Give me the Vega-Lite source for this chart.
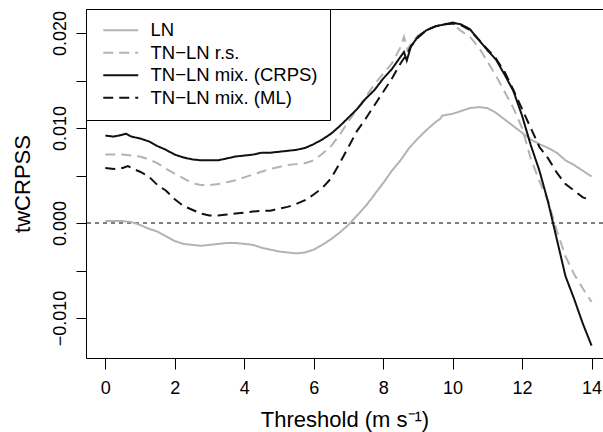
{
  "$schema": "https://vega.github.io/schema/vega-lite/v6.json",
  "width": 517,
  "height": 349,
  "autosize": {"type": "none"},
  "padding": {"left": 86, "top": 9, "right": 0, "bottom": 74},
  "background": "white",
  "config": {
    "font": "Liberation Sans",
    "view": {"stroke": null},
    "axis": {
      "grid": false,
      "domainColor": "black",
      "domainWidth": 1,
      "tickColor": "black",
      "tickWidth": 1,
      "labelColor": "black",
      "labelFont": "Liberation Sans",
      "labelFontSize": 18,
      "titleFont": "Liberation Sans",
      "titleFontSize": 22,
      "titleFontWeight": "normal",
      "titleColor": "black",
      "labelFlush": false,
      "labelOverlap": false
    },
    "legend": {
      "orient": "none",
      "legendX": 0,
      "legendY": 0,
      "strokeColor": "black",
      "fillColor": "white",
      "padding": 12,
      "cornerRadius": 0,
      "symbolType": "M-0.5,0H3.875",
      "symbolSize": 256,
      "symbolStrokeWidth": 2,
      "labelFont": "Liberation Sans",
      "labelFontSize": 18.5,
      "labelColor": "black",
      "labelOffset": 34,
      "rowPadding": 3.5,
      "labelLimit": 400
    }
  },
  "datasets": {
    "curves": [
      {"t": 0, "v": 0.0002, "s": "LN"},
      {"t": 0.25, "v": 0.0002, "s": "LN"},
      {"t": 0.5, "v": 0.0002, "s": "LN"},
      {"t": 0.75, "v": 0.0001, "s": "LN"},
      {"t": 1.0, "v": -0.0002, "s": "LN"},
      {"t": 1.25, "v": -0.0006, "s": "LN"},
      {"t": 1.5, "v": -0.0009, "s": "LN"},
      {"t": 1.75, "v": -0.0014, "s": "LN"},
      {"t": 2.0, "v": -0.0019, "s": "LN"},
      {"t": 2.25, "v": -0.0022, "s": "LN"},
      {"t": 2.5, "v": -0.0023, "s": "LN"},
      {"t": 2.75, "v": -0.0024, "s": "LN"},
      {"t": 3.0, "v": -0.0023, "s": "LN"},
      {"t": 3.25, "v": -0.0022, "s": "LN"},
      {"t": 3.5, "v": -0.0021, "s": "LN"},
      {"t": 3.75, "v": -0.0021, "s": "LN"},
      {"t": 4.0, "v": -0.0022, "s": "LN"},
      {"t": 4.25, "v": -0.0023, "s": "LN"},
      {"t": 4.5, "v": -0.0026, "s": "LN"},
      {"t": 4.75, "v": -0.0028, "s": "LN"},
      {"t": 5.0, "v": -0.003, "s": "LN"},
      {"t": 5.25, "v": -0.0031, "s": "LN"},
      {"t": 5.5, "v": -0.0032, "s": "LN"},
      {"t": 5.75, "v": -0.0031, "s": "LN"},
      {"t": 6.0, "v": -0.0028, "s": "LN"},
      {"t": 6.25, "v": -0.0023, "s": "LN"},
      {"t": 6.5, "v": -0.0017, "s": "LN"},
      {"t": 6.75, "v": -0.001, "s": "LN"},
      {"t": 7.0, "v": -0.0002, "s": "LN"},
      {"t": 7.25, "v": 0.0008, "s": "LN"},
      {"t": 7.5, "v": 0.0018, "s": "LN"},
      {"t": 7.75, "v": 0.003, "s": "LN"},
      {"t": 8.0, "v": 0.0042, "s": "LN"},
      {"t": 8.25, "v": 0.0055, "s": "LN"},
      {"t": 8.5, "v": 0.0066, "s": "LN"},
      {"t": 8.75, "v": 0.0079, "s": "LN"},
      {"t": 9.0, "v": 0.0089, "s": "LN"},
      {"t": 9.25, "v": 0.0098, "s": "LN"},
      {"t": 9.5, "v": 0.0106, "s": "LN"},
      {"t": 9.65, "v": 0.011, "s": "LN"},
      {"t": 9.7, "v": 0.0113, "s": "LN"},
      {"t": 10.0, "v": 0.0115, "s": "LN"},
      {"t": 10.25, "v": 0.0118, "s": "LN"},
      {"t": 10.5, "v": 0.0121, "s": "LN"},
      {"t": 10.75, "v": 0.0122, "s": "LN"},
      {"t": 11.0, "v": 0.0121, "s": "LN"},
      {"t": 11.25, "v": 0.0116, "s": "LN"},
      {"t": 11.5, "v": 0.0109, "s": "LN"},
      {"t": 11.75, "v": 0.0102, "s": "LN"},
      {"t": 12.0, "v": 0.0095, "s": "LN"},
      {"t": 12.25, "v": 0.0088, "s": "LN"},
      {"t": 12.5, "v": 0.0083, "s": "LN"},
      {"t": 12.75, "v": 0.0079, "s": "LN"},
      {"t": 13.0, "v": 0.0074, "s": "LN"},
      {"t": 13.25, "v": 0.0066, "s": "LN"},
      {"t": 13.5, "v": 0.0061, "s": "LN"},
      {"t": 13.75, "v": 0.0055, "s": "LN"},
      {"t": 14.0, "v": 0.0049, "s": "LN"},

      {"t": 0, "v": 0.0072, "s": "TN−LN r.s."},
      {"t": 0.25, "v": 0.0072, "s": "TN−LN r.s."},
      {"t": 0.5, "v": 0.0072, "s": "TN−LN r.s."},
      {"t": 0.75, "v": 0.0071, "s": "TN−LN r.s."},
      {"t": 1.0, "v": 0.007, "s": "TN−LN r.s."},
      {"t": 1.25, "v": 0.0067, "s": "TN−LN r.s."},
      {"t": 1.5, "v": 0.0063, "s": "TN−LN r.s."},
      {"t": 1.75, "v": 0.0057, "s": "TN−LN r.s."},
      {"t": 2.0, "v": 0.0052, "s": "TN−LN r.s."},
      {"t": 2.25, "v": 0.0047, "s": "TN−LN r.s."},
      {"t": 2.5, "v": 0.0042, "s": "TN−LN r.s."},
      {"t": 2.75, "v": 0.004, "s": "TN−LN r.s."},
      {"t": 3.0, "v": 0.004, "s": "TN−LN r.s."},
      {"t": 3.25, "v": 0.0041, "s": "TN−LN r.s."},
      {"t": 3.5, "v": 0.0043, "s": "TN−LN r.s."},
      {"t": 3.75, "v": 0.0045, "s": "TN−LN r.s."},
      {"t": 4.0, "v": 0.0048, "s": "TN−LN r.s."},
      {"t": 4.25, "v": 0.0051, "s": "TN−LN r.s."},
      {"t": 4.5, "v": 0.0054, "s": "TN−LN r.s."},
      {"t": 4.75, "v": 0.0057, "s": "TN−LN r.s."},
      {"t": 5.0, "v": 0.0059, "s": "TN−LN r.s."},
      {"t": 5.25, "v": 0.0061, "s": "TN−LN r.s."},
      {"t": 5.5, "v": 0.0062, "s": "TN−LN r.s."},
      {"t": 5.75, "v": 0.0063, "s": "TN−LN r.s."},
      {"t": 6.0, "v": 0.0066, "s": "TN−LN r.s."},
      {"t": 6.25, "v": 0.0073, "s": "TN−LN r.s."},
      {"t": 6.5, "v": 0.0081, "s": "TN−LN r.s."},
      {"t": 6.75, "v": 0.0093, "s": "TN−LN r.s."},
      {"t": 7.0, "v": 0.0107, "s": "TN−LN r.s."},
      {"t": 7.25, "v": 0.012, "s": "TN−LN r.s."},
      {"t": 7.5, "v": 0.0133, "s": "TN−LN r.s."},
      {"t": 7.75, "v": 0.0146, "s": "TN−LN r.s."},
      {"t": 8.0, "v": 0.0157, "s": "TN−LN r.s."},
      {"t": 8.25, "v": 0.0168, "s": "TN−LN r.s."},
      {"t": 8.5, "v": 0.0185, "s": "TN−LN r.s."},
      {"t": 8.6, "v": 0.0196, "s": "TN−LN r.s."},
      {"t": 8.7, "v": 0.0182, "s": "TN−LN r.s."},
      {"t": 8.8, "v": 0.0189, "s": "TN−LN r.s."},
      {"t": 9.0, "v": 0.0197, "s": "TN−LN r.s."},
      {"t": 9.25, "v": 0.0203, "s": "TN−LN r.s."},
      {"t": 9.5, "v": 0.0207, "s": "TN−LN r.s."},
      {"t": 9.75, "v": 0.0209, "s": "TN−LN r.s."},
      {"t": 10.0, "v": 0.021, "s": "TN−LN r.s."},
      {"t": 10.25, "v": 0.0202, "s": "TN−LN r.s."},
      {"t": 10.5, "v": 0.0196, "s": "TN−LN r.s."},
      {"t": 10.75, "v": 0.0185, "s": "TN−LN r.s."},
      {"t": 11.0, "v": 0.017, "s": "TN−LN r.s."},
      {"t": 11.25, "v": 0.0155, "s": "TN−LN r.s."},
      {"t": 11.5, "v": 0.0138, "s": "TN−LN r.s."},
      {"t": 11.75, "v": 0.0121, "s": "TN−LN r.s."},
      {"t": 12.0, "v": 0.01, "s": "TN−LN r.s."},
      {"t": 12.25, "v": 0.0068, "s": "TN−LN r.s."},
      {"t": 12.5, "v": 0.0044, "s": "TN−LN r.s."},
      {"t": 12.75, "v": 0.0023, "s": "TN−LN r.s."},
      {"t": 13.0, "v": -0.0008, "s": "TN−LN r.s."},
      {"t": 13.25, "v": -0.0035, "s": "TN−LN r.s."},
      {"t": 13.5, "v": -0.0054, "s": "TN−LN r.s."},
      {"t": 13.75, "v": -0.0069, "s": "TN−LN r.s."},
      {"t": 14.0, "v": -0.0083, "s": "TN−LN r.s."},

      {"t": 0, "v": 0.0092, "s": "TN−LN mix. (CRPS)"},
      {"t": 0.25, "v": 0.0091, "s": "TN−LN mix. (CRPS)"},
      {"t": 0.5, "v": 0.0093, "s": "TN−LN mix. (CRPS)"},
      {"t": 0.6, "v": 0.0094, "s": "TN−LN mix. (CRPS)"},
      {"t": 0.75, "v": 0.0091, "s": "TN−LN mix. (CRPS)"},
      {"t": 1.0, "v": 0.0089, "s": "TN−LN mix. (CRPS)"},
      {"t": 1.25, "v": 0.0086, "s": "TN−LN mix. (CRPS)"},
      {"t": 1.5, "v": 0.0081, "s": "TN−LN mix. (CRPS)"},
      {"t": 1.75, "v": 0.0077, "s": "TN−LN mix. (CRPS)"},
      {"t": 2.0, "v": 0.0072, "s": "TN−LN mix. (CRPS)"},
      {"t": 2.25, "v": 0.0069, "s": "TN−LN mix. (CRPS)"},
      {"t": 2.5, "v": 0.0067, "s": "TN−LN mix. (CRPS)"},
      {"t": 2.75, "v": 0.0066, "s": "TN−LN mix. (CRPS)"},
      {"t": 3.0, "v": 0.0066, "s": "TN−LN mix. (CRPS)"},
      {"t": 3.25, "v": 0.0066, "s": "TN−LN mix. (CRPS)"},
      {"t": 3.5, "v": 0.0068, "s": "TN−LN mix. (CRPS)"},
      {"t": 3.75, "v": 0.007, "s": "TN−LN mix. (CRPS)"},
      {"t": 4.0, "v": 0.0071, "s": "TN−LN mix. (CRPS)"},
      {"t": 4.25, "v": 0.0072, "s": "TN−LN mix. (CRPS)"},
      {"t": 4.5, "v": 0.0074, "s": "TN−LN mix. (CRPS)"},
      {"t": 4.75, "v": 0.0074, "s": "TN−LN mix. (CRPS)"},
      {"t": 5.0, "v": 0.0075, "s": "TN−LN mix. (CRPS)"},
      {"t": 5.25, "v": 0.0076, "s": "TN−LN mix. (CRPS)"},
      {"t": 5.5, "v": 0.0077, "s": "TN−LN mix. (CRPS)"},
      {"t": 5.75, "v": 0.0079, "s": "TN−LN mix. (CRPS)"},
      {"t": 6.0, "v": 0.0083, "s": "TN−LN mix. (CRPS)"},
      {"t": 6.25, "v": 0.0088, "s": "TN−LN mix. (CRPS)"},
      {"t": 6.5, "v": 0.0094, "s": "TN−LN mix. (CRPS)"},
      {"t": 6.75, "v": 0.0102, "s": "TN−LN mix. (CRPS)"},
      {"t": 7.0, "v": 0.0111, "s": "TN−LN mix. (CRPS)"},
      {"t": 7.25, "v": 0.012, "s": "TN−LN mix. (CRPS)"},
      {"t": 7.5, "v": 0.0131, "s": "TN−LN mix. (CRPS)"},
      {"t": 7.75, "v": 0.014, "s": "TN−LN mix. (CRPS)"},
      {"t": 8.0, "v": 0.0152, "s": "TN−LN mix. (CRPS)"},
      {"t": 8.25, "v": 0.0162, "s": "TN−LN mix. (CRPS)"},
      {"t": 8.5, "v": 0.0175, "s": "TN−LN mix. (CRPS)"},
      {"t": 8.6, "v": 0.018, "s": "TN−LN mix. (CRPS)"},
      {"t": 8.68, "v": 0.0171, "s": "TN−LN mix. (CRPS)"},
      {"t": 8.8, "v": 0.0186, "s": "TN−LN mix. (CRPS)"},
      {"t": 9.0, "v": 0.0196, "s": "TN−LN mix. (CRPS)"},
      {"t": 9.25, "v": 0.0203, "s": "TN−LN mix. (CRPS)"},
      {"t": 9.5, "v": 0.0207, "s": "TN−LN mix. (CRPS)"},
      {"t": 9.75, "v": 0.0209, "s": "TN−LN mix. (CRPS)"},
      {"t": 10.0, "v": 0.0211, "s": "TN−LN mix. (CRPS)"},
      {"t": 10.25, "v": 0.0209, "s": "TN−LN mix. (CRPS)"},
      {"t": 10.5, "v": 0.0204, "s": "TN−LN mix. (CRPS)"},
      {"t": 10.75, "v": 0.0193, "s": "TN−LN mix. (CRPS)"},
      {"t": 11.0, "v": 0.0182, "s": "TN−LN mix. (CRPS)"},
      {"t": 11.25, "v": 0.0172, "s": "TN−LN mix. (CRPS)"},
      {"t": 11.5, "v": 0.0156, "s": "TN−LN mix. (CRPS)"},
      {"t": 11.75, "v": 0.0139, "s": "TN−LN mix. (CRPS)"},
      {"t": 12.0, "v": 0.0113, "s": "TN−LN mix. (CRPS)"},
      {"t": 12.25, "v": 0.0082, "s": "TN−LN mix. (CRPS)"},
      {"t": 12.5, "v": 0.0055, "s": "TN−LN mix. (CRPS)"},
      {"t": 12.75, "v": 0.0022, "s": "TN−LN mix. (CRPS)"},
      {"t": 13.0, "v": -0.0017, "s": "TN−LN mix. (CRPS)"},
      {"t": 13.25, "v": -0.0056, "s": "TN−LN mix. (CRPS)"},
      {"t": 13.5, "v": -0.008, "s": "TN−LN mix. (CRPS)"},
      {"t": 13.75, "v": -0.0106, "s": "TN−LN mix. (CRPS)"},
      {"t": 14.0, "v": -0.0129, "s": "TN−LN mix. (CRPS)"},

      {"t": 0, "v": 0.0058, "s": "TN−LN mix. (ML)"},
      {"t": 0.25, "v": 0.0057, "s": "TN−LN mix. (ML)"},
      {"t": 0.5, "v": 0.0058, "s": "TN−LN mix. (ML)"},
      {"t": 0.65, "v": 0.006, "s": "TN−LN mix. (ML)"},
      {"t": 0.8, "v": 0.0057, "s": "TN−LN mix. (ML)"},
      {"t": 1.0, "v": 0.0054, "s": "TN−LN mix. (ML)"},
      {"t": 1.25, "v": 0.0049, "s": "TN−LN mix. (ML)"},
      {"t": 1.5, "v": 0.004, "s": "TN−LN mix. (ML)"},
      {"t": 1.75, "v": 0.0034, "s": "TN−LN mix. (ML)"},
      {"t": 2.0, "v": 0.0025, "s": "TN−LN mix. (ML)"},
      {"t": 2.25, "v": 0.0018, "s": "TN−LN mix. (ML)"},
      {"t": 2.5, "v": 0.0014, "s": "TN−LN mix. (ML)"},
      {"t": 2.75, "v": 0.001, "s": "TN−LN mix. (ML)"},
      {"t": 3.0, "v": 0.0008, "s": "TN−LN mix. (ML)"},
      {"t": 3.25, "v": 0.0008, "s": "TN−LN mix. (ML)"},
      {"t": 3.5, "v": 0.0009, "s": "TN−LN mix. (ML)"},
      {"t": 3.75, "v": 0.001, "s": "TN−LN mix. (ML)"},
      {"t": 4.0, "v": 0.0011, "s": "TN−LN mix. (ML)"},
      {"t": 4.25, "v": 0.0012, "s": "TN−LN mix. (ML)"},
      {"t": 4.5, "v": 0.0013, "s": "TN−LN mix. (ML)"},
      {"t": 4.75, "v": 0.0013, "s": "TN−LN mix. (ML)"},
      {"t": 5.0, "v": 0.0015, "s": "TN−LN mix. (ML)"},
      {"t": 5.25, "v": 0.0017, "s": "TN−LN mix. (ML)"},
      {"t": 5.5, "v": 0.002, "s": "TN−LN mix. (ML)"},
      {"t": 5.75, "v": 0.0024, "s": "TN−LN mix. (ML)"},
      {"t": 6.0, "v": 0.003, "s": "TN−LN mix. (ML)"},
      {"t": 6.25, "v": 0.0037, "s": "TN−LN mix. (ML)"},
      {"t": 6.5, "v": 0.0047, "s": "TN−LN mix. (ML)"},
      {"t": 6.75, "v": 0.0063, "s": "TN−LN mix. (ML)"},
      {"t": 7.0, "v": 0.008, "s": "TN−LN mix. (ML)"},
      {"t": 7.25, "v": 0.0097, "s": "TN−LN mix. (ML)"},
      {"t": 7.5, "v": 0.011, "s": "TN−LN mix. (ML)"},
      {"t": 7.75, "v": 0.0124, "s": "TN−LN mix. (ML)"},
      {"t": 8.0, "v": 0.0138, "s": "TN−LN mix. (ML)"},
      {"t": 8.25, "v": 0.0152, "s": "TN−LN mix. (ML)"},
      {"t": 8.5, "v": 0.0168, "s": "TN−LN mix. (ML)"},
      {"t": 8.7, "v": 0.0179, "s": "TN−LN mix. (ML)"},
      {"t": 8.8, "v": 0.0186, "s": "TN−LN mix. (ML)"},
      {"t": 9.0, "v": 0.0195, "s": "TN−LN mix. (ML)"},
      {"t": 9.25, "v": 0.0203, "s": "TN−LN mix. (ML)"},
      {"t": 9.5, "v": 0.0207, "s": "TN−LN mix. (ML)"},
      {"t": 9.75, "v": 0.0209, "s": "TN−LN mix. (ML)"},
      {"t": 10.0, "v": 0.021, "s": "TN−LN mix. (ML)"},
      {"t": 10.25, "v": 0.0208, "s": "TN−LN mix. (ML)"},
      {"t": 10.5, "v": 0.0203, "s": "TN−LN mix. (ML)"},
      {"t": 10.75, "v": 0.0193, "s": "TN−LN mix. (ML)"},
      {"t": 11.0, "v": 0.0183, "s": "TN−LN mix. (ML)"},
      {"t": 11.25, "v": 0.0173, "s": "TN−LN mix. (ML)"},
      {"t": 11.5, "v": 0.0159, "s": "TN−LN mix. (ML)"},
      {"t": 11.75, "v": 0.014, "s": "TN−LN mix. (ML)"},
      {"t": 12.0, "v": 0.012, "s": "TN−LN mix. (ML)"},
      {"t": 12.25, "v": 0.01, "s": "TN−LN mix. (ML)"},
      {"t": 12.5, "v": 0.008, "s": "TN−LN mix. (ML)"},
      {"t": 12.75, "v": 0.0068, "s": "TN−LN mix. (ML)"},
      {"t": 13.0, "v": 0.0053, "s": "TN−LN mix. (ML)"},
      {"t": 13.25, "v": 0.0041, "s": "TN−LN mix. (ML)"},
      {"t": 13.5, "v": 0.0034, "s": "TN−LN mix. (ML)"},
      {"t": 13.75, "v": 0.0027, "s": "TN−LN mix. (ML)"},
      {"t": 14.0, "v": 0.0024, "s": "TN−LN mix. (ML)"}
    ]
  },
  "layer": [
    {
      "data": {"values": [{"z": 0}]},
      "mark": {"type": "rule", "color": "black", "strokeWidth": 1, "strokeDash": [4, 4]},
      "encoding": {
        "y": {
          "field": "z",
          "type": "quantitative",
          "scale": {"domain": [-0.01421, 0.02253], "nice": false, "zero": false},
          "axis": {
            "values": [-0.01, -0.005, 0, 0.005, 0.01, 0.015, 0.02],
            "labelExpr": "abs(round(datum.value*1000)) % 10 == 0 ? format(datum.value, '.3f') : ''",
            "tickSize": 10,
            "labelAngle": 270,
            "labelAlign": "center",
            "labelBaseline": "alphabetic",
            "labelPadding": 11,
            "title": "twCRPSS",
            "titlePadding": 17
          }
        }
      }
    },
    {
      "data": {"name": "curves"},
      "mark": {"type": "line", "strokeWidth": 2, "clip": true},
      "encoding": {
        "x": {
          "field": "t",
          "type": "quantitative",
          "scale": {"domain": [-0.556, 14.33], "nice": false, "zero": false},
          "axis": {
            "orient": "bottom",
            "values": [0, 2, 4, 6, 8, 10, 12, 14],
            "tickSize": 11,
            "labelPadding": 10,
            "title": "Threshold (m s⁻¹)",
            "titlePadding": 12
          }
        },
        "y": {"field": "v", "type": "quantitative"},
        "color": {
          "field": "s",
          "type": "nominal",
          "scale": {
            "domain": ["LN", "TN−LN r.s.", "TN−LN mix. (CRPS)", "TN−LN mix. (ML)"],
            "range": ["#b3b3b3", "#b3b3b3", "#111111", "#111111"]
          },
          "legend": {"title": null, "symbolType": "M-0.5,0H3.875", "symbolSize": 256}
        },
        "strokeDash": {
          "field": "s",
          "type": "nominal",
          "scale": {
            "domain": ["LN", "TN−LN r.s.", "TN−LN mix. (CRPS)", "TN−LN mix. (ML)"],
            "range": [[1, 0], [10, 6], [1, 0], [10, 6]]
          },
          "legend": {"title": null, "symbolType": "M-0.5,0H3.875", "symbolSize": 256}
        }
      }
    },
    {
      "data": {"values": [{"t": 0}]},
      "mark": {"type": "point", "opacity": 0},
      "encoding": {
        "x": {
          "field": "t",
          "type": "quantitative",
          "axis": {"orient": "top", "labels": false, "ticks": false, "title": null, "domain": true}
        }
      }
    }
  ],
  "resolve": {"axis": {"x": "independent"}}
}
